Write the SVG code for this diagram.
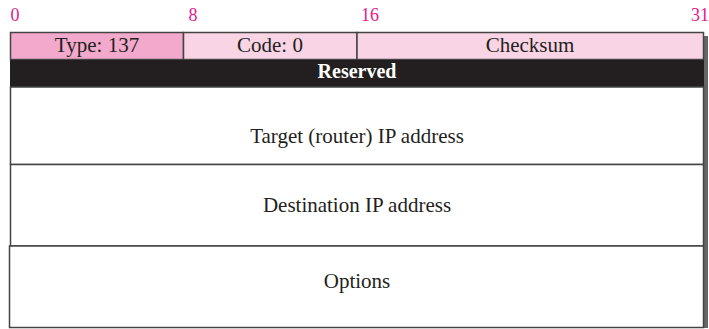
<svg xmlns="http://www.w3.org/2000/svg" width="709" height="329" viewBox="0 0 709 329">
<style>
text{font-family:"Liberation Serif","Times New Roman",serif;font-size:21px;text-anchor:middle;fill:#231F20}
text.bit{fill:#E6198A;font-size:18px}
.cell{stroke:#444;stroke-width:1.5}
.white{fill:#fff}
</style>
<rect x="704" y="36" width="4" height="292" fill="#666"/>
<g id="bits">
<text class="bit" x="15" y="21">0</text>
<text class="bit" x="193" y="21">8</text>
<text class="bit" x="370" y="21">16</text>
<text class="bit" x="700" y="21">31</text>
</g>
<g id="type"><rect class="cell" x="10.5" y="32.5" width="173" height="27" fill="#F3A9CB"/><text x="97" y="52">Type: 137</text></g>
<g id="code"><rect class="cell" x="183.5" y="32.5" width="173.5" height="27" fill="#F9D4E5"/><text x="270" y="52">Code: 0</text></g>
<g id="checksum"><rect class="cell" x="357" y="32.5" width="346.5" height="27" fill="#F9D4E5"/><text x="530" y="52">Checksum</text></g>
<g id="reserved"><rect x="10" y="60" width="694" height="27" fill="#231F20"/><text x="357" y="78" style="fill:#fff;font-weight:bold;font-size:20px">Reserved</text></g>
<g id="target"><rect class="cell white" x="10.5" y="87" width="693" height="77.5"/><text x="357" y="143">Target (router) IP address</text></g>
<g id="destination"><rect class="cell white" x="10.5" y="164.5" width="693" height="81.5"/><text x="357" y="212">Destination IP address</text></g>
<g id="options"><rect class="cell white" x="9.5" y="246" width="694" height="81.5"/><text x="357" y="288">Options</text></g>
</svg>
